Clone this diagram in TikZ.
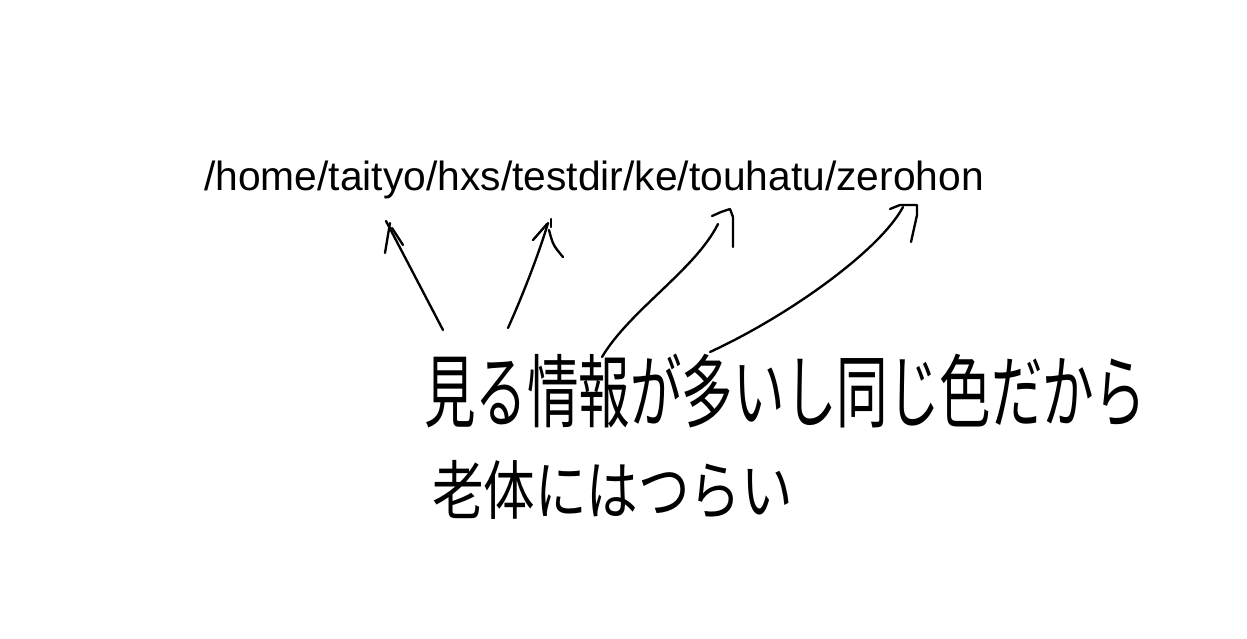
\documentclass[tikz,border=0pt]{standalone}
\usepackage{fontspec}
\setmainfont{Liberation Sans}
\newfontfamily\jpfont{Noto Sans CJK JP}
\usetikzlibrary{positioning}

\tikzset{
  pathtext/.style={font=\fontsize{34.8}{40}\selectfont, inner sep=0pt},
  scribble/.style={font=\jpfont\fontsize{44}{50}\selectfont, inner sep=0pt},
  pen/.style={line width=2pt, line cap=round, line join=round}
}

\begin{document}
\begin{tikzpicture}[x=0.03cm, y=-0.03cm]
      \useasboundingbox (0,0) rectangle (1247,639);
      \node[pathtext, anchor=base west] (path) at (204,190) {/home/taityo/hxs/testdir/ke/touhatu/zerohon};
      \node[scribble] (line1) at (785,391) {\scalebox{1}[1.55]{見る情報が多いし同じ色だから}};
      \node[scribble, anchor=west] (line2) at (432,490) {\scalebox{1}[1.25]{老体にはつらい}};
      % tails under the first line, tips under the path
      \coordinate (tailA) at (443,330);
      \coordinate (tipA) at (386,221);
      \coordinate (tailB) at (508,328);
      \coordinate (tipB) at (548,223);
      \coordinate (tailC) at (602,357);
      \coordinate (tipC) at (718,224);
      \coordinate (tailD) at (710,352);
      \coordinate (tipD) at (903,207);
      \draw[pen] (tailA) -- (tipA);
      \draw[pen] (385,253) -- (390,223);
      \draw[pen] (392,228) -- (403,245);
      \draw[pen] (tailB) .. controls (525,290) and (540,250) .. (tipB);
      \draw[pen] (533,240) -- (547,224);
      \draw[pen] (549,230) .. controls (553,245) .. (563,257);
      \draw[pen] (551,219) -- (551,227);
      \draw[pen] (tailC) .. controls (630,310) and (695,270) .. (tipC);
      \draw[pen] (712,216) -- (721,212) -- (730,209) -- (733,217) -- (733,247);
      \draw[pen] (tailD) .. controls (790,315) and (880,250) .. (tipD);
      \draw[pen] (890,209) -- (900,205) -- (917,205) -- (917,215) -- (911,242);
   \end{tikzpicture}
\end{document}
